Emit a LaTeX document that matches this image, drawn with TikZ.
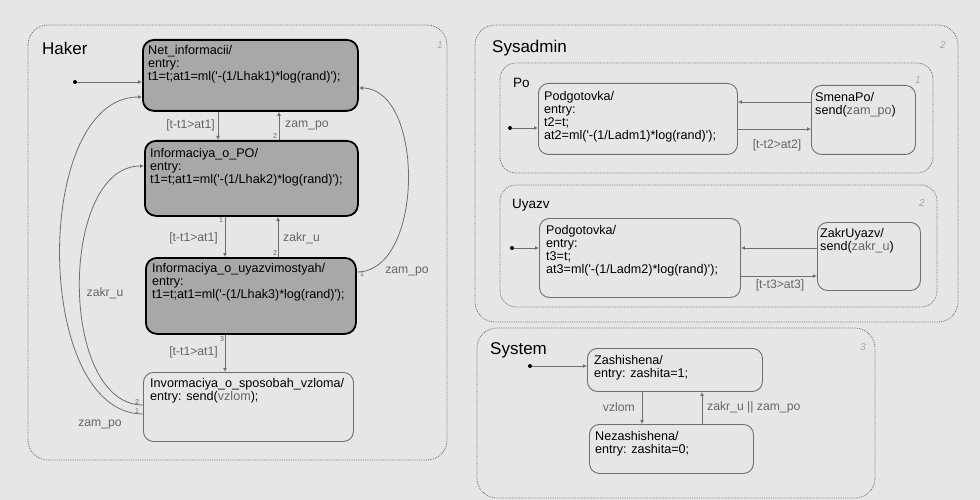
\documentclass[tikz,border=0pt]{standalone}
\usepackage{fontspec}
\setmainfont{Liberation Sans}
\usetikzlibrary{arrows.meta}
\definecolor{bg}{HTML}{E6E6E6}
\definecolor{dfill}{HTML}{A8A8A8}
\definecolor{lbl}{HTML}{666666}
\definecolor{sline}{HTML}{6E6E6E}
\newcommand\qs{\textquotesingle}
\begin{document}
\begin{tikzpicture}[x=1pt,y=-1pt,
 chart/.style={draw=sline, densely dotted, line width=0.8pt, rounded corners=20pt},
 subchart/.style={draw=sline, densely dotted, line width=0.8pt, rounded corners=16pt},
 dstate/.style={draw=black, line width=1.8pt, fill=dfill, rounded corners=11pt, anchor=north west, inner sep=0pt},
 lstate/.style={draw=sline, line width=0.9pt, rounded corners=10pt, anchor=north west, inner sep=0pt},
 txt/.style={anchor=north west, inner sep=0pt, align=left, font=\fontsize{12.6}{13}\selectfont},
 tlbl/.style={text=lbl, inner sep=0pt, font=\fontsize{12.2}{13}\selectfont},
 ord/.style={text=lbl, inner sep=0pt, font=\fontsize{7}{7}\selectfont},
 title/.style={anchor=west, inner sep=0pt, font=\fontsize{17}{17}\selectfont},
 subtitle/.style={anchor=west, inner sep=0pt, font=\fontsize{13.5}{14}\selectfont},
 num/.style={text=black!35, inner sep=0pt, font=\itshape\fontsize{10}{10}\selectfont},
 tr/.style={draw=sline, line width=0.8pt, -{Latex[open,length=4pt,width=4pt]}},
 dot/.style={circle, fill=black, inner sep=0pt, minimum size=4pt}
]
\fill[bg] (0,0) rectangle (980,500);
\useasboundingbox (0,0) rectangle (980,500);

% ---------- charts ----------
\draw[chart] (28,25) rectangle (447,460);
\draw[chart] (475,25) rectangle (958,322);
\draw[subchart] (500,63) rectangle (933,173);
\draw[subchart] (500,185) rectangle (937,307);
\draw[chart] (477,328) rectangle (875,498);

\node[title] (tHaker) at (42,48) {Haker};
\node[title] (tSys) at (492,48) {Sysadmin};
\node[subtitle] (tPo) at (513,83) {Po};
\node[subtitle] (tUy) at (512,205) {Uyazv};
\node[title] (tSystem) at (490,350) {System};

\node[num] (n1) at (440,45) {1};
\node[num] (n2) at (943,45) {2};
\node[num] (n3) at (918,80) {1};
\node[num] (n4) at (922,203) {2};
\node[num] (n5) at (863,347) {3};

% ---------- Haker states ----------
\node[dstate, minimum width=215pt, minimum height=71pt] (net) at (142,39) {};
\node[dstate, minimum width=213pt, minimum height=75pt] (po) at (144,140) {};
\node[dstate, minimum width=210pt, minimum height=76pt] (uy) at (145,257) {};
\node[lstate, minimum width=210pt, minimum height=69pt] (sp) at (143,372) {};

\node[txt] (netT) at (148,45) {Net\_informacii/\\entry:\\t1=t;at1=ml(\qs-(1/Lhak1)*log(rand)\qs);};
\node[txt] (poT) at (150,148) {Informaciya\_o\_PO/\\entry:\\t1=t;at1=ml(\qs-(1/Lhak2)*log(rand)\qs);};
\node[txt] (uyT) at (152,263) {Informaciya\_o\_uyazvimostyah/\\entry:\\t1=t;at1=ml(\qs-(1/Lhak3)*log(rand)\qs);};
\node[txt] (spT) at (150,378) {Invormaciya\_o\_sposobah\_vzloma/\\entry: send(\textcolor{lbl}{vzlom});};

% ---------- Haker transitions ----------
\node[dot] (d1) at (75,82) {};
\draw[tr] (d1) -- (d1 -| net.west);

\draw[tr] ([xshift=76pt]net.south west) -- ([xshift=74pt]po.north west);
\node[tlbl, anchor=east] (l1) at (215,125) {[t-t1>at1]};
\draw[tr] ([xshift=135pt]po.north west) -- ([xshift=137pt]net.south west);
\node[tlbl, anchor=west] (l2) at (285,125) {zam\_po};
\node[ord] (o1) at (275,136) {2};
\node[ord] (o2) at (221,220) {1};

\draw[tr] ([xshift=81pt]po.south west) -- ([xshift=80pt]uy.north west);
\node[tlbl, anchor=east] (l3) at (218,238) {[t-t1>at1]};
\draw[tr] ([xshift=133pt]uy.north west) -- ([xshift=134pt]po.south west);
\node[tlbl, anchor=west] (l4) at (283,238) {zakr\_u};
\node[ord] (o3) at (275,253) {2};

\draw[tr] ([xshift=80pt]uy.south west) -- ([xshift=82pt]sp.north west);
\node[tlbl, anchor=east] (l5) at (218,352) {[t-t1>at1]};
\node[ord] (o4) at (222,339) {3};

\draw[tr] ([yshift=-42pt]sp.north west) .. controls +(-110,0) and +(-110,0) .. ([yshift=-58pt]net.north west);
\draw[tr] ([yshift=-33pt]sp.north west) .. controls +(-85,0) and +(-85,0) .. ([yshift=-26pt]po.north west);
\node[tlbl] (l6) at (100,424) {zam\_po};
\node[tlbl] (l7) at (105,293) {zakr\_u};
\node[ord] (o5) at (137,411) {1};
\node[ord] (o6) at (137,402) {2};

\draw[tr] ([yshift=-15pt]uy.north east) .. controls +(68,0) and +(66,0) .. ([yshift=-49pt]net.north east);
\node[tlbl] (l8) at (407,271) {zam\_po};
\node[ord] (o7) at (362,274) {1};

% ---------- Sysadmin / Po ----------
\node[lstate, minimum width=199pt, minimum height=71pt] (pod1) at (538,83) {};
\node[lstate, minimum width=104pt, minimum height=69pt] (smena) at (811,85) {};
\node[txt] (pod1T) at (544,91) {Podgotovka/\\entry:\\t2=t;\\at2=ml(\qs-(1/Ladm1)*log(rand)\qs);};
\node[txt] (smenaT) at (815,92) {SmenaPo/\\send(\textcolor{lbl}{zam\_po})};
\node[dot] (d2) at (510,128) {};
\draw[tr] (d2) -- (d2 -| pod1.west);
\draw[tr] ([yshift=-17pt]smena.north west) -- ([yshift=-19pt]pod1.north east);
\draw[tr] ([yshift=-46pt]pod1.north east) -- ([yshift=-44pt]smena.north west);
\node[tlbl] (l9) at (777,145) {[t-t2>at2]};

% ---------- Sysadmin / Uyazv ----------
\node[lstate, minimum width=201pt, minimum height=79pt] (pod2) at (539,218) {};
\node[lstate, minimum width=103pt, minimum height=68pt] (zakr) at (817,222) {};
\node[txt] (pod2T) at (546,225) {Podgotovka/\\entry:\\t3=t;\\at3=ml(\qs-(1/Ladm2)*log(rand)\qs);};
\node[txt] (zakrT) at (820,228) {ZakrUyazv/\\send(\textcolor{lbl}{zakr\_u})};
\node[dot] (d3) at (512,248) {};
\draw[tr] (d3) -- (d3 -| pod2.west);
\draw[tr] ([yshift=-26pt]zakr.north west) -- ([yshift=-30pt]pod2.north east);
\draw[tr] ([yshift=-58pt]pod2.north east) -- ([yshift=-54pt]zakr.north west);
\node[tlbl] (l10) at (780,285) {[t-t3>at3]};

% ---------- System ----------
\node[lstate, minimum width=175pt, minimum height=43pt] (zash) at (587,348) {};
\node[lstate, minimum width=164pt, minimum height=49pt] (nez) at (589,424) {};
\node[txt] (zashT) at (594,355) {Zashishena/\\entry: zashita=1;};
\node[txt] (nezT) at (595,431) {Nezashishena/\\entry: zashita=0;};
\node[dot] (d4) at (530,366) {};
\draw[tr] (d4) -- (d4 -| zash.west);
\draw[tr] ([xshift=55pt]zash.south west) -- ([xshift=53pt]nez.north west);
\node[tlbl, anchor=east] (l11) at (635,407) {vzlom};
\draw[tr] ([xshift=113pt]nez.north west) -- ([xshift=115pt]zash.south west);
\node[tlbl, anchor=west] (l12) at (707,407) {zakr\_u || zam\_po};
\end{tikzpicture}
\end{document}
